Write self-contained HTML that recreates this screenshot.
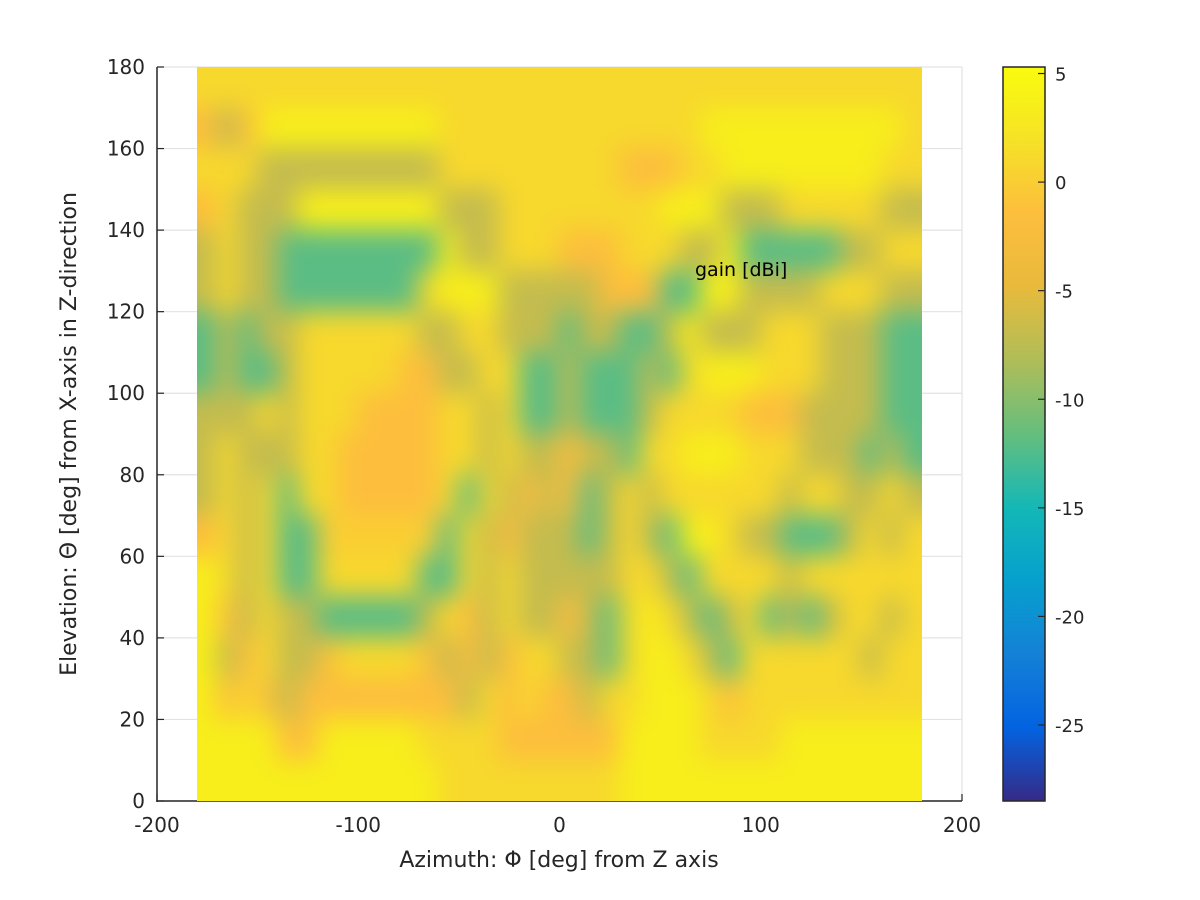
<!DOCTYPE html>
<html><head><meta charset="utf-8">
<style>
html,body{margin:0;padding:0;background:#fff;}
#wrap{position:relative;width:1200px;height:900px;overflow:hidden;}
#chart{position:absolute;left:0;top:0;display:block;font-family:"DejaVu Sans","Liberation Sans",sans-serif;}
#heat{position:absolute;left:197.25px;top:67px;width:724.5px;height:734px;overflow:hidden;}
#heatsvg{position:absolute;left:-40px;top:-80px;filter:blur(13px);}
#gainLabel{position:absolute;left:695px;top:261px;font-family:"DejaVu Sans","Liberation Sans",sans-serif;font-size:19px;color:#000;white-space:nowrap;line-height:1;}
</style></head>
<body>
<div id="wrap">
<svg id="chart" width="1200" height="900" viewBox="0 0 1200 900" xmlns="http://www.w3.org/2000/svg">
<defs>
<linearGradient id="cbGrad" x1="0" y1="1" x2="0" y2="0"></linearGradient>
</defs>
<rect x="0" y="0" width="1200" height="900" fill="#fff"/>
<g id="grid"></g>
<g id="axes"></g>
<text x="559" y="867" font-size="22" text-anchor="middle" fill="#262626">Azimuth: Φ [deg] from Z axis</text>
<text transform="translate(76,434) rotate(-90)" font-size="22" text-anchor="middle" fill="#262626">Elevation: Θ [deg] from X-axis in Z-direction</text>
<g id="colorbar"></g>
</svg>
<div id="heat">
<svg id="heatsvg" width="804.5" height="894" xmlns="http://www.w3.org/2000/svg"><g id="cells"></g></svg>
</div>
<div id="gainLabel">gain [dBi]</div>
</div>
<script>
const phiCenters = [-175,-165,-155,-145,-135,-125,-115,-105,-95,-85,-75,-65,-55,-45,-35,-25,-15,-5,5,15,25,35,45,55,65,75,85,95,105,115,125,135,145,155,165,175];
const thetaCenters = [175,165,155,145,135,125,115,105,95,85,75,65,55,45,35,25,15,5];
const gainRows = [
[1,1,1,1,1,1,1,1,1,1,1,1,1,1,1,1,1,1,1,1,1,1,1,1,1,1,1,1,1,1,1,1,1,1,1,1],
[-1.5,-7,-1.5,3.5,3.5,3.5,3.5,3.5,3.5,3.5,3.5,3.5,1,1,1,1,1,1,1,1,1,1,1,1,1,3.5,3.5,3.5,3.5,3.5,3.5,3.5,3.5,3.5,3.5,1],
[1,1,1,-7,-7,-7,-7,-7,-7,-7,-7,-7,1,1,1,1,1,1,1,1,1,-1.5,-1.5,-1.5,1,1,3.5,3.5,3.5,3.5,3.5,3.5,3.5,3.5,1,1],
[-1.5,1,-7,-7,-7,3.5,3.5,3.5,3.5,3.5,3.5,3.5,-7,-7,-7,1,1,1,1,1,1,1,1,3.5,3.5,3.5,-7,-7,-7,1,1,1,1,1,-7,-7],
[-7,1,-7,-7,-12,-12,-12,-12,-12,-12,-12,-12,3.5,-7,-7,1,1,1,-1.5,-1.5,-1.5,1,1,1,-7,-7,3.5,-12,-12,-12,-12,-12,-7,-7,1,1],
[-7,1,-7,-7,-12,-12,-12,-12,-12,-12,-12,1,3.5,3.5,3.5,-7,-7,-7,-7,-7,-1.5,-1.5,-1.5,-12,-12,3.5,3.5,-7,-7,-7,-7,1,1,1,-7,-7],
[-12,-7,-12,-7,-7,1,1,1,1,1,1,-7,-7,1,1,-7,-7,-7,-12,-7,-7,-12,-12,-7,3.5,-7,-7,-7,1,1,1,-7,-7,-7,-12,-12],
[-12,-7,-12,-12,-7,1,1,1,1,1,-1.5,-1.5,-7,-7,1,1,-12,-12,-7,-12,-12,-12,-7,-12,1,3.5,3.5,3.5,1,1,1,-7,-7,-7,-12,-12],
[-7,-7,-7,1,-7,1,1,1,-1.5,-1.5,-1.5,-1.5,1,1,-7,1,-12,-12,-7,-12,-12,-12,-7,1,1,1,1,-1.5,-1.5,-1.5,-7,-7,-7,-7,-12,-12],
[-7,1,-7,-7,-7,1,1,-1.5,-1.5,-1.5,-1.5,-1.5,1,1,-7,1,-7,-7,-1.5,-7,-7,-12,1,1,3.5,3.5,3.5,1,1,1,-7,-7,-7,-12,-7,-12],
[-7,1,-7,1,-12,1,1,-1.5,-1.5,-1.5,-1.5,-1.5,1,-12,1,-7,-1.5,-7,-1.5,-12,-7,1,-7,1,1,1,1,1,1,-7,1,1,-7,-7,1,-7],
[-1.5,1,-7,1,-12,-12,0,0,0,0,0,0,-12,1,-7,-1.5,-7,-7,-7,-12,-7,1,-7,-12,3.5,3.5,1,-7,-7,-12,-12,-12,-7,1,-7,1],
[3.5,1,-7,1,-12,-12,1,1,1,1,1,-12,-12,1,-7,1,-7,-7,-7,-7,-7,1,1,-7,-12,1,1,1,1,-7,1,1,1,1,1,1],
[3.5,-1.5,-7,1,-7,-7,-12,-12,-12,-12,-12,-7,1,-1.5,-7,1,-7,-7,-1.5,-7,-12,1,3.5,1,-7,-12,-7,1,-12,-7,-12,-7,1,1,-7,1],
[3.5,-7,-1.5,1,-7,-7,-1.5,1,1,1,1,-1.5,-7,-1.5,-7,-1.5,1,1,-7,-7,-12,1,3.5,3.5,1,-7,-12,1,1,1,1,1,1,-7,1,1],
[3.5,-1.5,1,-1.5,-7,-1.5,-1.5,-1.5,-1.5,-1.5,-1.5,-1.5,-1.5,-7,1,-1.5,1,-1.5,-1.5,-7,1,1,3.5,3.5,3.5,1,-1.5,1,1,1,1,1,1,1,1,1],
[3.5,3.5,3.5,3.5,-1.5,-1.5,3.5,3.5,3.5,3.5,3.5,1,1,1,1,-1.5,-1.5,-1.5,-1.5,-1.5,-1.5,3.5,3.5,3.5,3.5,1,1,1,1,3.5,3.5,3.5,3.5,3.5,3.5,3.5],
[3.5,3.5,3.5,3.5,3.5,3.5,3.5,3.5,3.5,3.5,3.5,3.5,1,1,1,1,1,1,1,1,1,3.5,3.5,3.5,3.5,3.5,3.5,3.5,3.5,3.5,3.5,3.5,3.5,3.5,3.5,3.5]
];
const xTicks = [-200,-100,0,100,200];
const yTicks = [0,20,40,60,80,100,120,140,160,180];
const cbTicks = [5,0,-5,-10,-15,-20,-25];
const cbMin = -28.5, cbMax = 5.3;

const NS = "http://www.w3.org/2000/svg";
const X0=157, X1=962, Y0=801, Y1=67;
function xs(v){return X0+(v+200)*(X1-X0)/400;}
function ys(v){return Y0-v*(Y0-Y1)/180;}
const CB_X0=1003, CB_X1=1045;
function cs(v){return Y0-(v-cbMin)*(Y0-Y1)/(cbMax-cbMin);}
const HEAT_LEFT = xs(-180), HEAT_TOP = ys(180), PAD_X = 40, PAD_Y = 80;

const parula=[[0,[53,42,135]],[0.1,[3,99,225]],[0.2,[20,129,214]],[0.3,[6,160,205]],[0.4,[20,184,182]],[0.5,[101,190,125]],[0.6,[175,189,88]],[0.7,[232,186,60]],[0.8,[253,190,61]],[0.9,[245,226,39]],[1,[249,251,14]]];
function colorOf(v){
  let t=(v-cbMin)/(cbMax-cbMin); t=Math.max(0,Math.min(1,t));
  for(let i=1;i<parula.length;i++){
    if(t<=parula[i][0]){
      const a=parula[i-1],b=parula[i],f=(t-a[0])/(b[0]-a[0]);
      const c=a[1].map((q,k)=>Math.round(q+(b[1][k]-q)*f));
      return `rgb(${c[0]},${c[1]},${c[2]})`;
    }
  }
  return "rgb(249,251,14)";
}
function mk(tag,attrs,parent){const e=document.createElementNS(NS,tag);for(const k in attrs)e.setAttribute(k,attrs[k]);parent.appendChild(e);return e;}

const grid=document.getElementById('grid');
xTicks.forEach(t=>{
  const l=mk('line',{x1:xs(t),x2:xs(t),y1:Y1,y2:Y0,stroke:'#e3e3e3','stroke-width':1.2},grid);
  
  
});
yTicks.forEach(t=>{
  const l=mk('line',{x1:X0,x2:X1,y1:ys(t),y2:ys(t),stroke:'#e3e3e3','stroke-width':1.2},grid);
  
  
});

const cells=document.getElementById('cells');
const dPhi=10, dTh=10;
const nR=thetaCenters.length, nC=phiCenters.length;
for(let r=-3;r<nR+3;r++){
  for(let c=-3;c<nC+3;c++){
    const rr=Math.max(0,Math.min(nR-1,r)), cc=Math.max(0,Math.min(nC-1,c));
    const ph=phiCenters[0]+c*dPhi, th=thetaCenters[0]-r*dTh;
    const x=xs(ph-dPhi/2)-HEAT_LEFT+PAD_X, w=xs(ph+dPhi/2)-xs(ph-dPhi/2);
    const y=ys(th+dTh/2)-HEAT_TOP+PAD_Y, h=ys(th-dTh/2)-ys(th+dTh/2);
    const rc=mk('rect',{x:x-0.3,y:y-0.3,width:w+0.6,height:h+0.6,fill:colorOf(gainRows[rr][cc])},cells);
    
    
  }
}

const axes=document.getElementById('axes');
mk('line',{x1:X0,x2:X0,y1:Y1,y2:Y0+1,stroke:'#262626','stroke-width':1.5},axes);
mk('line',{x1:X0-0.7,x2:X1,y1:Y0,y2:Y0,stroke:'#262626','stroke-width':1.5},axes);
xTicks.forEach(t=>{
  mk('line',{x1:xs(t),x2:xs(t),y1:Y0,y2:Y0-7,stroke:'#262626','stroke-width':1.2},axes);
  const tx=mk('text',{x:xs(t),y:Y0+31,'font-size':20,'text-anchor':'middle',fill:'#262626'},axes);
  tx.textContent=t;
  
  
});
yTicks.forEach(t=>{
  mk('line',{x1:X0,x2:X0+7,y1:ys(t),y2:ys(t),stroke:'#262626','stroke-width':1.2},axes);
  const tx=mk('text',{x:X0-12,y:ys(t)+7,'font-size':20,'text-anchor':'end',fill:'#262626'},axes);
  tx.textContent=t;
  
  
});

const grad=document.getElementById('cbGrad');
for(let i=0;i<=20;i++){
  const v=cbMin+(cbMax-cbMin)*i/20;
  mk('stop',{offset:(i/20),'stop-color':colorOf(v)},grad);
}
const cb=document.getElementById('colorbar');
mk('rect',{x:CB_X0,y:Y1,width:CB_X1-CB_X0,height:Y0-Y1,fill:'url(#cbGrad)',stroke:'#262626','stroke-width':1.5},cb);
cbTicks.forEach(t=>{
  mk('line',{x1:CB_X1,x2:CB_X1-7,y1:cs(t),y2:cs(t),stroke:'#262626','stroke-width':1.2},cb);
  const tx=mk('text',{x:CB_X1+10,y:cs(t)+7,'font-size':18,fill:'#262626'},cb);
  tx.textContent=t;
  
  
});
</script>
</body></html>
